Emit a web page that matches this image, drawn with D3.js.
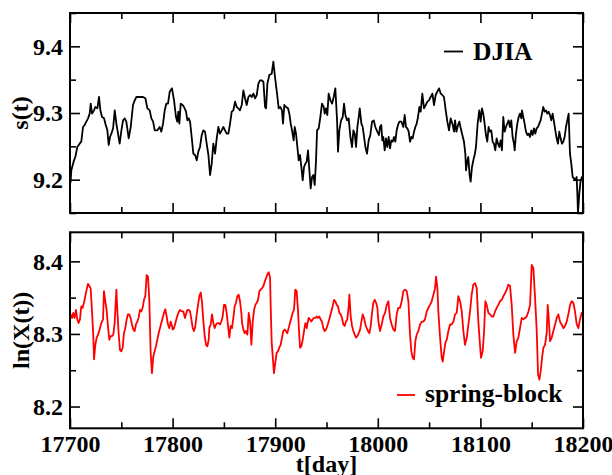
<!DOCTYPE html>
<html>
<head>
<meta charset="utf-8">
<script src="https://cdn.jsdelivr.net/npm/d3@7"></script>
<style>
  html, body { margin: 0; padding: 0; background: #fff; }
  svg { display: block; }
  text { font-family: "Liberation Serif", "Times New Roman", serif; font-weight: bold; }
</style>
</head>
<body>
<svg id="chart" width="612" height="475"></svg>
<script>
// ---------- DATA ----------
const xTicks = [17700, 17800, 17900, 18000, 18100, 18200];
const xMinorTicks = [17750, 17850, 17950, 18050, 18150];
const topTicks = [9.2, 9.3, 9.4];
const topMinorTicks = [9.15, 9.25, 9.35, 9.45];
const bottomTicks = [8.2, 8.3, 8.4];
const bottomMinorTicks = [8.25, 8.35];
const seriesNames = ["DJIA", "spring-block"];

const djiaT = [17700.5,17701.3,17703.9,17705.2,17707.1,17709.4,17711.0,17712.7,17714.3,17715.9,17717.6,17719.2,17720.2,17721.5,17723.4,17724.7,17726.7,17728.3,17729.6,17731.2,17733.2,17734.5,17736.4,17737.7,17739.0,17740.3,17742.0,17743.6,17745.2,17746.8,17748.4,17750.1,17751.7,17753.3,17754.9,17757.2,17759.2,17761.4,17763.1,17764.7,17768.0,17771.2,17773.5,17775.4,17777.7,17779.3,17781.0,17782.6,17785.2,17787.4,17789.0,17790.7,17792.3,17793.9,17795.5,17797.2,17799.4,
17801.4,17803.3,17804.6,17805.6,17806.6,17807.9,17809.8,17811.1,17813.1,17814.4,17815.7,17817.0,17818.6,17820.2,17821.9,17823.5,17825.1,17826.7,17828.4,17830.0,17831.6,17833.2,17834.9,17836.5,17838.1,17839.7,17841.4,17843.0,17844.6,17846.2,17847.9,17849.5,17851.1,17852.7,17854.4,17856.0,17857.6,17859.2,17860.9,17862.5,17864.1,17865.7,17867.4,17869.0,17870.6,17872.2,17873.9,17875.5,17877.1,17878.7,17880.4,17882.0,17883.6,17885.2,17886.8,17888.5,17890.1,17891.1,17892.4,17894.3,17896.6,17898.2,17899.8,
17901.8,17903.4,17905.0,17906.6,17907.6,17908.9,17910.5,17912.5,17913.8,17915.1,17916.4,17918.0,17919.0,17920.3,17921.6,17922.9,17924.2,17925.5,17926.8,17928.1,17929.4,17930.7,17932.0,17933.3,17934.6,17935.9,17937.2,17938.5,17939.8,17940.8,17942.4,17944.0,17945.6,17947.3,17948.2,17949.5,17950.8,17952.1,17953.8,17955.4,17957.0,17958.6,17960.3,17961.2,17962.5,17964.2,17965.8,17967.1,17968.4,17970.0,17971.6,17973.3,17974.9,17976.2,17977.5,17978.8,17980.1,17981.4,17982.4,17984.0,17985.3,17986.6,17987.9,17989.5,17991.1,17992.7,17994.4,17996.0,17997.6,
17999.5,18001.2,18002.1,18003.4,18004.4,18005.4,18006.7,18008.0,18009.3,18010.6,18011.9,18013.2,18014.5,18015.8,18017.1,18018.4,18019.7,18021.0,18023.0,18024.9,18026.2,18027.5,18028.8,18030.1,18031.4,18032.7,18034.0,18035.3,18036.6,18037.9,18039.2,18040.5,18041.8,18043.4,18045.0,18046.7,18048.3,18049.9,18051.5,18053.2,18054.8,18056.4,18058.0,18059.7,18061.3,18062.9,18064.5,18066.2,18067.8,18069.4,18071.0,18072.7,18074.3,18075.3,18076.6,18078.2,18079.5,18080.8,18082.4,18084.0,18085.3,18086.0,18087.3,18088.2,18089.5,18090.5,18091.8,18093.1,18094.4,18095.7,18097.3,18098.9,
18100.2,18101.5,18102.8,18104.1,18105.4,18106.7,18108.0,18109.3,18110.6,18111.9,18113.2,18114.5,18115.8,18117.1,18118.4,18119.7,18121.0,18122.3,18123.6,18124.9,18126.2,18127.5,18128.8,18130.1,18131.4,18132.7,18133.4,18134.7,18136.0,18137.3,18138.6,18139.9,18140.5,18141.8,18143.1,18144.4,18145.7,18147.0,18148.3,18149.6,18150.9,18152.2,18153.5,18154.8,18156.1,18157.4,18158.7,18160.0,18161.3,18162.6,18163.9,18165.2,18166.5,18167.8,18169.1,18170.4,18171.7,18173.0,18174.3,18175.6,18176.9,18178.2,18179.5,18180.8,18182.1,18183.4,18184.7,18186.0,18187.3,18188.6,18189.9,18191.2,18192.5,18193.8,18194.5,18195.1,18196.4,18197.7,18199.0,18200.0];

const djiaV = [9.195,9.214,9.229,9.234,9.249,9.254,9.257,9.279,9.282,9.287,9.292,9.299,9.314,9.299,9.304,9.309,9.307,9.324,9.304,9.294,9.292,9.284,9.274,9.252,9.264,9.269,9.277,9.304,9.284,9.269,9.254,9.274,9.289,9.292,9.287,9.262,9.279,9.312,9.319,9.324,9.324,9.324,9.322,9.307,9.304,9.292,9.287,9.274,9.274,9.279,9.272,9.284,9.304,9.314,9.314,9.332,9.337,
9.319,9.294,9.287,9.302,9.284,9.314,9.312,9.309,9.302,9.289,9.292,9.287,9.264,9.239,9.237,9.229,9.242,9.249,9.267,9.274,9.272,9.254,9.237,9.207,9.224,9.254,9.239,9.262,9.279,9.269,9.274,9.279,9.274,9.269,9.269,9.284,9.302,9.304,9.317,9.309,9.307,9.304,9.312,9.334,9.322,9.312,9.324,9.327,9.324,9.329,9.322,9.327,9.344,9.349,9.349,9.347,9.309,9.307,9.344,9.357,9.359,9.377,9.354,
9.329,9.307,9.309,9.304,9.284,9.312,9.309,9.307,9.299,9.284,9.274,9.259,9.279,9.269,9.249,9.229,9.237,9.219,9.199,9.219,9.224,9.227,9.244,9.214,9.187,9.204,9.207,9.192,9.229,9.274,9.277,9.294,9.314,9.309,9.299,9.307,9.297,9.329,9.319,9.314,9.324,9.337,9.289,9.242,9.274,9.289,9.294,9.314,9.297,9.289,9.292,9.264,9.249,9.274,9.269,9.249,9.279,9.294,9.307,9.284,9.279,9.264,9.249,9.239,9.259,9.267,9.287,9.289,9.279,
9.272,9.267,9.279,9.282,9.259,9.264,9.244,9.262,9.249,9.264,9.247,9.259,9.257,9.264,9.257,9.274,9.282,9.287,9.287,9.279,9.297,9.279,9.277,9.272,9.257,9.264,9.262,9.272,9.279,9.284,9.294,9.309,9.302,9.329,9.307,9.312,9.317,9.319,9.324,9.329,9.312,9.327,9.332,9.337,9.329,9.327,9.324,9.304,9.287,9.274,9.292,9.284,9.272,9.289,9.272,9.282,9.287,9.277,9.267,9.257,9.239,9.214,9.229,9.234,9.207,9.197,9.219,9.229,9.237,9.249,9.284,9.304,
9.287,9.307,9.299,9.284,9.267,9.257,9.279,9.272,9.274,9.257,9.254,9.244,9.262,9.254,9.249,9.259,9.244,9.294,9.272,9.279,9.284,9.289,9.279,9.289,9.264,9.254,9.244,9.269,9.284,9.294,9.299,9.292,9.304,9.294,9.284,9.272,9.267,9.269,9.264,9.274,9.267,9.277,9.269,9.277,9.279,9.284,9.289,9.299,9.309,9.302,9.304,9.299,9.302,9.297,9.289,9.299,9.287,9.274,9.262,9.254,9.272,9.262,9.254,9.257,9.264,9.279,9.289,9.299,9.239,9.224,9.204,9.202,9.199,9.204,9.179,9.150,9.179,9.199,9.204,9.200];

const springT = [17700.0,17700.6,17702.0,17703.2,17704.5,17705.8,17707.1,17708.4,17709.7,17711.0,17712.3,17713.6,17714.9,17716.2,17717.5,17718.8,17720.1,17721.4,17722.7,17723.4,17724.7,17726.0,17727.3,17728.9,17730.5,17732.2,17733.1,17734.4,17735.7,17737.0,17738.3,17739.6,17740.9,17742.2,17743.5,17745.2,17746.1,17747.4,17748.7,17750.0,17751.3,17752.6,17753.9,17755.2,17756.5,17757.8,17759.1,17760.4,17761.7,17763.0,17764.3,17765.6,17766.9,17768.2,17769.5,17770.8,17772.1,17773.4,17774.7,17776.0,17777.3,17778.6,17779.9,17781.2,17782.5,17783.8,17785.1,17786.4,17787.7,17789.0,17790.3,17791.6,17792.9,17794.2,17795.5,17796.8,17798.1,17799.4,
17800.1,17801.4,17802.7,17804.0,17805.6,17807.2,17808.9,17810.5,17812.1,17813.1,17814.4,17815.7,17817.0,17818.3,17819.6,17820.9,17822.2,17823.5,17824.8,17826.1,17827.4,17828.7,17830.0,17831.3,17832.6,17833.9,17835.2,17835.8,17837.1,17838.4,17839.7,17841.0,17842.3,17843.6,17844.9,17846.2,17847.5,17848.8,17850.1,17851.4,17852.7,17854.0,17855.3,17856.6,17857.9,17859.2,17860.5,17861.8,17863.1,17864.4,17865.7,17867.0,17867.7,17869.0,17870.3,17871.6,17872.9,17874.2,17875.5,17876.8,17878.1,17879.4,17880.7,17882.0,17883.3,17884.6,17885.9,17887.2,17888.5,17889.8,17891.1,17892.4,17893.7,17895.0,17895.6,17896.6,
17898.8,17900.1,17901.4,17902.7,17904.0,17905.3,17906.6,17907.9,17909.2,17910.5,17911.8,17913.1,17914.4,17915.7,17917.0,17918.3,17919.6,17920.9,17922.2,17923.5,17924.2,17925.5,17926.8,17928.1,17929.4,17930.7,17931.3,17932.6,17933.9,17935.2,17936.5,17937.8,17939.1,17940.4,17941.7,17943.0,17944.3,17945.6,17946.9,17948.2,17949.5,17950.8,17952.1,17953.4,17954.7,17956.0,17957.3,17958.6,17959.9,17961.2,17962.5,17963.8,17965.1,17966.4,17967.7,17969.0,17970.3,17971.6,17972.3,17973.6,17974.9,17976.2,17977.5,17978.8,17980.1,17981.4,17982.7,17984.0,17985.3,17986.6,17987.9,17989.2,17990.5,17991.8,17993.1,17994.4,17995.7,17997.0,17998.3,17999.6,
18000.6,18002.2,18003.8,18005.4,18007.1,18008.7,18010.3,18011.9,18013.5,18015.2,18016.8,18018.4,18020.0,18021.7,18023.3,18024.9,18026.5,18028.2,18029.8,18031.4,18032.7,18034.0,18035.3,18036.6,18037.9,18039.5,18041.2,18042.8,18044.4,18046.0,18047.7,18049.3,18050.9,18052.5,18054.2,18055.8,18056.8,18058.1,18059.0,18060.7,18062.3,18063.3,18064.6,18065.9,18067.2,18068.8,18070.4,18072.0,18073.7,18075.3,18076.9,18078.5,18080.2,18081.8,18083.4,18085.0,18086.7,18088.3,18089.9,18091.5,18093.1,18094.8,18096.4,18098.0,18099.6,
18100.6,18102.2,18103.5,18104.8,18106.1,18107.8,18109.4,18111.0,18112.6,18114.3,18115.9,18117.5,18119.1,18120.8,18122.4,18124.0,18125.6,18127.3,18128.9,18130.5,18132.1,18133.8,18135.4,18137.0,18138.6,18140.3,18141.9,18143.5,18145.1,18146.8,18148.4,18150.0,18151.6,18153.3,18154.9,18156.2,18157.5,18158.8,18160.1,18161.4,18163.0,18164.6,18165.6,18166.6,18167.9,18169.5,18171.1,18172.8,18174.4,18176.0,18177.6,18179.2,18180.9,18182.5,18184.1,18185.7,18187.4,18189.0,18190.6,18192.2,18193.9,18195.5,18197.1,18198.7,18200.0];

const springV = [8.318,8.327,8.322,8.329,8.322,8.333,8.320,8.315,8.320,8.338,8.336,8.343,8.352,8.361,8.369,8.366,8.363,8.333,8.297,8.265,8.285,8.295,8.299,8.306,8.315,8.320,8.359,8.345,8.333,8.311,8.292,8.297,8.297,8.299,8.315,8.361,8.333,8.301,8.278,8.276,8.281,8.301,8.308,8.320,8.327,8.327,8.322,8.313,8.306,8.304,8.313,8.317,8.322,8.333,8.331,8.336,8.347,8.352,8.381,8.379,8.347,8.274,8.246,8.269,8.276,8.283,8.292,8.301,8.308,8.315,8.322,8.329,8.334,8.324,8.313,8.308,8.317,8.311,
8.306,8.308,8.315,8.322,8.329,8.333,8.331,8.331,8.322,8.327,8.333,8.333,8.331,8.320,8.308,8.304,8.311,8.327,8.340,8.352,8.357,8.343,8.317,8.297,8.285,8.283,8.292,8.308,8.313,8.327,8.315,8.308,8.313,8.315,8.315,8.313,8.317,8.324,8.340,8.340,8.329,8.311,8.295,8.311,8.308,8.322,8.338,8.343,8.352,8.354,8.345,8.329,8.315,8.306,8.301,8.304,8.299,8.329,8.317,8.285,8.317,8.333,8.340,8.343,8.347,8.359,8.361,8.363,8.366,8.372,8.377,8.382,8.385,8.377,8.338,8.288,
8.246,8.260,8.274,8.276,8.281,8.285,8.295,8.304,8.306,8.304,8.301,8.308,8.315,8.322,8.329,8.333,8.361,8.359,8.333,8.297,8.281,8.283,8.292,8.304,8.315,8.308,8.313,8.322,8.320,8.317,8.320,8.322,8.322,8.324,8.322,8.324,8.320,8.317,8.308,8.304,8.306,8.311,8.317,8.324,8.331,8.338,8.347,8.345,8.340,8.338,8.329,8.327,8.322,8.313,8.311,8.317,8.320,8.338,8.354,8.324,8.311,8.304,8.299,8.295,8.297,8.301,8.306,8.317,8.327,8.322,8.313,8.308,8.304,8.301,8.311,8.329,8.343,8.347,8.343,8.336,
8.317,8.304,8.313,8.324,8.329,8.340,8.345,8.322,8.313,8.306,8.304,8.327,8.336,8.336,8.345,8.359,8.361,8.359,8.345,8.299,8.276,8.267,8.265,8.290,8.299,8.304,8.313,8.317,8.317,8.320,8.331,8.336,8.340,8.345,8.354,8.363,8.379,8.363,8.331,8.295,8.267,8.262,8.276,8.288,8.292,8.304,8.313,8.313,8.317,8.327,8.329,8.352,8.345,8.331,8.304,8.285,8.295,8.313,8.331,8.354,8.368,8.370,8.363,8.317,8.285,
8.267,8.276,8.301,8.345,8.340,8.329,8.327,8.324,8.324,8.331,8.336,8.340,8.345,8.347,8.352,8.356,8.361,8.368,8.366,8.340,8.299,8.274,8.290,8.295,8.308,8.322,8.320,8.322,8.324,8.331,8.340,8.395,8.391,8.349,8.304,8.244,8.237,8.249,8.267,8.281,8.285,8.301,8.340,8.322,8.290,8.295,8.304,8.313,8.322,8.327,8.317,8.313,8.308,8.311,8.317,8.327,8.340,8.345,8.343,8.331,8.313,8.308,8.320,8.329,8.324];

// ---------- LAYOUT ----------
const svg = d3.select("#chart");
const X0 = 70, X1 = 583;
const topPanel = { y0: 13, y1: 213, domain: [9.15, 9.45] };
const botPanel = { y0: 232.3, y1: 428.3, domain: [8.17, 8.44] };

const x = d3.scaleLinear().domain([17700, 18200]).range([X0, X1]);
const yTop = d3.scaleLinear().domain(topPanel.domain).range([topPanel.y1, topPanel.y0]);
const yBot = d3.scaleLinear().domain(botPanel.domain).range([botPanel.y1, botPanel.y0]);

const FONT = "24px";
const LEGFONT = "25.5px";
const MAJ = 10, MIN = 6;

function clip(id, p) {
  svg.append("clipPath").attr("id", id).append("rect")
    .attr("x", X0).attr("y", p.y0).attr("width", X1 - X0).attr("height", p.y1 - p.y0);
}
clip("cTop", topPanel);
clip("cBot", botPanel);

function drawSeries(T, V, y, color, clipId) {
  const data = T.map((t, i) => [t, V[i]]);
  svg.append("path")
    .datum(data)
    .attr("clip-path", `url(#${clipId})`)
    .attr("fill", "none")
    .attr("stroke", color)
    .attr("stroke-width", 1.8)
    .attr("stroke-linejoin", "round")
    .attr("d", d3.line().x(d => x(d[0])).y(d => y(d[1])));
}

drawSeries(djiaT, djiaV, yTop, "#000", "cTop");
drawSeries(springT, springV, yBot, "#ff0000", "cBot");

function styleAxis(g, showLabels) {
  g.select(".domain").remove();
  g.selectAll(".tick line").attr("stroke", "#000").attr("stroke-width", 1.6);
  g.selectAll("text").style("font-size", FONT).style("font-weight", "bold")
    .style("font-family", '"Liberation Serif", "Times New Roman", serif')
    .attr("fill", "#000");
  if (!showLabels) g.selectAll("text").remove();
}

function panelAxes(p, y, majY, minY, showX) {
  let g = svg.append("g").attr("transform", `translate(0,${p.y1})`)
    .call(d3.axisBottom(x).tickValues(xTicks).tickSize(-MAJ).tickPadding(6.5).tickFormat(d3.format("d")));
  styleAxis(g, showX);
  g = svg.append("g").attr("transform", `translate(0,${p.y1})`)
    .call(d3.axisBottom(x).tickValues(xMinorTicks).tickSize(-MIN).tickFormat(""));
  styleAxis(g, false);
  g = svg.append("g").attr("transform", `translate(0,${p.y0})`)
    .call(d3.axisTop(x).tickValues(xTicks).tickSize(-MAJ).tickFormat(""));
  styleAxis(g, false);
  g = svg.append("g").attr("transform", `translate(0,${p.y0})`)
    .call(d3.axisTop(x).tickValues(xMinorTicks).tickSize(-MIN).tickFormat(""));
  styleAxis(g, false);
  g = svg.append("g").attr("transform", `translate(${X0},0)`)
    .call(d3.axisLeft(y).tickValues(majY).tickSize(-MAJ).tickPadding(7).tickFormat(d3.format(".1f")));
  styleAxis(g, true);
  g = svg.append("g").attr("transform", `translate(${X0},0)`)
    .call(d3.axisLeft(y).tickValues(minY).tickSize(-MIN).tickFormat(""));
  styleAxis(g, false);
  g = svg.append("g").attr("transform", `translate(${X1},0)`)
    .call(d3.axisRight(y).tickValues(majY).tickSize(-MAJ).tickFormat(""));
  styleAxis(g, false);
  g = svg.append("g").attr("transform", `translate(${X1},0)`)
    .call(d3.axisRight(y).tickValues(minY).tickSize(-MIN).tickFormat(""));
  styleAxis(g, false);
  svg.append("rect").attr("x", X0).attr("y", p.y0).attr("width", X1 - X0).attr("height", p.y1 - p.y0)
    .attr("fill", "none").attr("stroke", "#000").attr("stroke-width", 2);
}

panelAxes(topPanel, yTop, topTicks, topMinorTicks, false);
panelAxes(botPanel, yBot, bottomTicks, bottomMinorTicks, true);

// axis titles
svg.append("text").attr("transform", `translate(28,${(topPanel.y0 + topPanel.y1) / 2}) rotate(-90)`)
  .attr("text-anchor", "middle").style("font-size", FONT).text("s(t)");
svg.append("text").attr("transform", `translate(29,${(botPanel.y0 + botPanel.y1) / 2}) rotate(-90)`)
  .attr("text-anchor", "middle").style("font-size", FONT).text("ln(X(t))");
svg.append("text").attr("x", (X0 + X1) / 2).attr("y", 472)
  .attr("text-anchor", "middle").style("font-size", FONT).text("t[day]");

// legends
svg.append("line").attr("x1", 444).attr("x2", 463).attr("y1", 51.5).attr("y2", 51.5)
  .attr("stroke", "#000").attr("stroke-width", 1.8);
svg.append("text").attr("x", 473).attr("y", 60).style("font-size", LEGFONT).text(seriesNames[0]);
svg.append("line").attr("x1", 397).attr("x2", 415).attr("y1", 395).attr("y2", 395)
  .attr("stroke", "#ff0000").attr("stroke-width", 1.8);
svg.append("text").attr("x", 425).attr("y", 402).style("font-size", LEGFONT).text(seriesNames[1]);
</script>
</body>
</html>
